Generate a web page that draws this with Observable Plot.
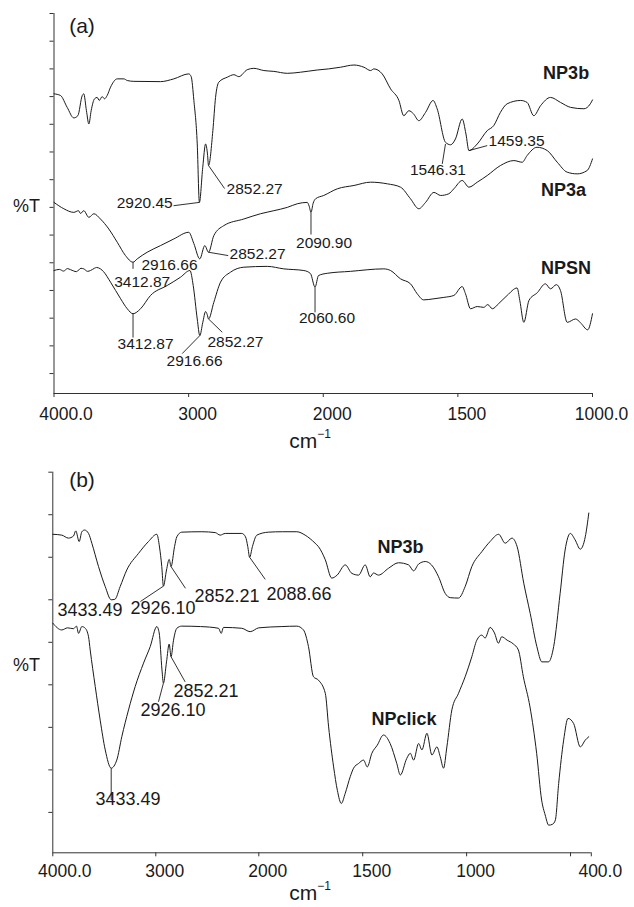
<!DOCTYPE html>
<html>
<head>
<meta charset="utf-8">
<script src="https://cdn.jsdelivr.net/npm/d3@7"></script>
<script src="https://cdn.jsdelivr.net/npm/@observablehq/plot@0.6"></script>
<style>
  html, body { margin: 0; padding: 0; background: #fff; }
  #wrap { width: 634px; }
  #wrap svg { display: block; }
</style>
</head>
<body>
<div id="wrap"></div>
<script>
const FONT = "'Liberation Sans', Arial, Helvetica, sans-serif";
const INK = "#1a1a1a";
const AXIS = "#333";

// ---------- Panel (a): x ticks / labels ----------
const xTicksA = [4000, 3000, 2000, 1500, 1000];
const xTickLabelsA = ["4000.0", "3000", "2000", "1500", "1000.0"];
const yTicksA = [0, 10, 20, 30, 40, 50, 60, 70, 80, 90, 100, 110, 120, 130];

// ---------- Panel (b): x ticks / labels ----------
const xTicksB = [4000, 3000, 2000, 1500, 1000, 500, 400];
const xTickLabelsB = ["4000.0", "3000", "2000", "1500", "1000", "", "400.0"];
const yTicksB = [0, 10, 20, 30, 40, 50, 60, 70, 80];

// ---------- Spectra (wavenumber cm-1, %T arbitrary offset units) ----------
const np3bA = [
  [4000,101.0],[3952,100.4],[3902,96.1],[3853,92.3],[3823,93.1],[3790,100.4],[3779,101.0],[3759,94.9],
  [3741,90.1],[3724,94.9],[3699,99.2],[3679,99.7],[3664,98.6],[3642,100.0],[3625,99.2],[3605,100.4],
  [3580,103.4],[3530,106.4],[3481,106.4],[3456,105.8],[3407,105.5],[3209,105.4],[3110,106.4],[2999,108.2],
  [2981,107.2],[2961,98.6],[2936,82.9],[2920,61.8],[2895,74.5],[2874,82.9],[2860,79.3],[2852,75.1],
  [2820,87.7],[2800,99.7],[2776,105.2],[2713,107.0],[2664,107.9],[2627,107.2],[2565,109.7],[2516,110.2],
  [2441,109.4],[2367,109.1],[2267,108.4],[2169,108.8],[2045,109.6],[1980,110.0],[1936,110.6],[1886,111.4],
  [1849,110.6],[1824,109.4],[1812,110.0],[1781,108.2],[1750,102.8],[1719,98.6],[1701,93.1],[1682,94.9],
  [1665,93.8],[1645,91.3],[1620,94.3],[1592,98.6],[1577,95.6],[1546,83.5],[1527,82.6],[1509,84.7],
  [1484,91.9],[1470,86.5],[1459,80.5],[1428,82.9],[1391,87.7],[1367,89.5],[1342,94.3],[1317,97.4],
  [1267,98.6],[1243,97.9],[1218,93.1],[1193,96.7],[1156,99.7],[1119,97.9],[1081,96.1],[1032,95.6],
  [1008,97.4],[1000,98.8]
];
const np3aA = [
  [4000,61.8],[3927,59.5],[3853,58.2],[3818,58.8],[3803,57.8],[3779,58.8],[3741,56.4],[3704,57.7],
  [3655,55.8],[3593,52.2],[3530,47.4],[3469,42.6],[3413,40.2],[3382,41.4],[3308,43.8],[3209,46.2],
  [3110,48.6],[2999,51.0],[2961,46.9],[2917,41.4],[2880,46.2],[2852,43.8],[2813,49.8],[2739,53.4],
  [2590,55.8],[2466,57.7],[2367,58.8],[2267,60.0],[2193,61.3],[2119,61.8],[2105,60.5],[2091,58.2],
  [2075,61.5],[2057,63.1],[1998,64.3],[1948,66.7],[1886,67.9],[1824,69.1],[1762,68.5],[1713,67.3],
  [1676,63.1],[1645,59.5],[1620,61.8],[1589,65.4],[1564,64.3],[1534,64.9],[1515,66.7],[1484,69.7],
  [1459,67.3],[1428,69.1],[1391,71.5],[1342,75.1],[1292,76.9],[1261,76.3],[1243,78.7],[1206,81.7],
  [1168,80.5],[1131,76.3],[1094,72.7],[1057,72.1],[1020,73.3],[1000,77.5]
];
const npsnA = [
  [4000,37.2],[3960,37.6],[3929,37.0],[3900,37.9],[3877,37.5],[3833,36.8],[3800,38.0],[3779,37.8],
  [3750,36.9],[3729,37.2],[3700,38.0],[3684,38.3],[3655,37.8],[3632,36.8],[3580,33.0],[3505,27.0],
  [3456,23.4],[3413,21.6],[3357,23.4],[3283,28.2],[3159,31.8],[3060,34.8],[2990,37.2],[2966,31.8],
  [2936,19.7],[2917,13.7],[2895,18.4],[2874,22.4],[2862,21.3],[2852,19.7],[2813,25.7],[2763,33.0],
  [2689,36.6],[2590,38.4],[2416,38.7],[2293,37.8],[2144,37.2],[2095,36.1],[2061,31.2],[2035,35.4],
  [1985,36.2],[1899,36.9],[1775,37.8],[1750,37.2],[1713,34.2],[1676,32.4],[1651,28.8],[1627,26.6],
  [1589,27.0],[1552,27.5],[1515,28.2],[1484,31.4],[1472,28.9],[1453,23.4],[1428,24.2],[1404,23.9],
  [1389,24.9],[1372,23.4],[1348,25.3],[1317,28.2],[1280,30.9],[1270,26.4],[1255,18.5],[1236,26.4],
  [1205,29.2],[1175,32.4],[1156,30.6],[1134,32.1],[1119,30.0],[1094,18.5],[1063,19.7],[1045,18.4],
  [1018,15.8],[1000,21.6]
];
const np3bB = [
  [4000,65.4],[3913,65.2],[3848,64.5],[3799,65.0],[3777,66.2],[3744,63.7],[3718,66.0],[3692,66.4],
  [3653,65.6],[3621,63.3],[3556,57.8],[3491,53.1],[3433,50.0],[3398,50.1],[3346,53.1],[3282,57.0],
  [3168,60.9],[3071,63.7],[2990,65.4],[2964,62.4],[2942,57.8],[2926,53.2],[2896,57.0],[2870,59.5],
  [2852,57.8],[2818,62.5],[2796,64.8],[2748,65.9],[2553,66.0],[2423,65.8],[2375,65.2],[2326,65.6],
  [2165,65.6],[2129,64.8],[2107,62.5],[2089,60.0],[2062,62.5],[2019,65.2],[1953,65.9],[1887,66.0],
  [1817,66.0],[1777,65.2],[1729,63.3],[1713,62.5],[1680,59.4],[1649,55.1],[1623,55.8],[1584,58.2],
  [1552,56.2],[1520,55.8],[1488,58.2],[1464,55.4],[1448,56.3],[1424,55.8],[1376,57.4],[1328,58.7],
  [1279,58.2],[1255,56.8],[1231,58.4],[1199,59.0],[1169,58.2],[1135,55.4],[1103,51.5],[1079,50.5],
  [1039,50.4],[1007,53.1],[975,57.8],[927,61.3],[887,63.7],[846,65.4],[814,63.3],[782,64.5],
  [757,62.5],[725,53.9],[694,46.8],[662,39.0],[638,35.4],[606,35.4],[581,39.0],[550,51.5],
  [526,61.7],[501,65.6],[478,64.1],[453,61.9],[429,64.8],[412,70.4]
];
const npclickB = [
  [4000,44.5],[3913,42.9],[3857,43.4],[3799,43.2],[3770,43.8],[3750,42.1],[3718,43.7],[3685,43.3],
  [3653,41.3],[3637,38.2],[3588,29.6],[3540,21.7],[3491,14.7],[3433,10.4],[3379,12.3],[3330,17.8],
  [3265,24.1],[3200,29.6],[3119,35.1],[3054,39.0],[2990,43.7],[2967,42.2],[2940,33.5],[2926,30.4],
  [2896,35.4],[2870,39.6],[2852,36.6],[2828,40.5],[2796,43.3],[2748,43.8],[2566,43.7],[2391,43.3],
  [2365,42.1],[2343,43.5],[2165,43.3],[2084,42.5],[2000,43.4],[1889,43.7],[1817,43.8],[1785,42.9],
  [1761,39.0],[1737,31.9],[1713,31.1],[1680,28.0],[1664,20.1],[1640,10.7],[1622,5.2],[1603,2.1],
  [1584,4.5],[1560,8.4],[1544,10.4],[1520,11.5],[1496,12.3],[1478,10.7],[1456,13.9],[1430,15.8],
  [1400,18.2],[1368,16.2],[1336,11.5],[1319,8.8],[1288,12.7],[1271,13.9],[1255,12.3],[1231,16.2],
  [1215,14.7],[1191,18.6],[1167,13.5],[1143,15.4],[1127,13.1],[1111,10.4],[1095,15.4],[1071,24.1],
  [1039,28.0],[1007,31.9],[975,36.6],[951,40.5],[927,41.7],[911,41.0],[887,43.5],[866,42.2],
  [847,39.8],[831,41.3],[805,40.5],[775,39.6],[751,38.2],[727,31.9],[695,24.8],[663,13.9],
  [639,2.9],[622,-0.6],[605,-3.0],[587,-2.8],[573,-1.8],[557,6.8],[533,17.0],[512,22.1],
  [485,20.9],[453,15.4],[429,17.0],[412,17.8]
];

// ---------- Series names ----------
const namesA = [
  {name: "NP3b", x: 1098, y: 108.5},
  {name: "NP3a", x: 1108, y: 66.1},
  {name: "NPSN", x: 1098, y: 38.1}
];
const namesB = [
  {name: "NP3b", x: 1318, y: 62.3},
  {name: "NPclick", x: 1301, y: 21.8}
];

// ---------- Peak annotations: peak point, leader end, label point ----------
const peaksA = [
  {label: "2920.45", px: 2920, pv: 61.8, lx: 3112, lv: 60.6, tx: 3118, tv: 61.6, anchor: "end"},
  {label: "2852.27", px: 2852, pv: 75.1, lx: 2733, lv: 66.8, tx: 2718, tv: 66.6, anchor: "start"},
  {label: "1546.31", px: 1546, pv: 82.9, lx: 1558, lv: 75.7, tx: 1574, tv: 73.5, anchor: "middle"},
  {label: "1459.35", px: 1459, pv: 80.5, lx: 1391, lv: 82.3, tx: 1386, tv: 83.8, anchor: "start"},
  {label: "2090.90", px: 2091, pv: 58.2, lx: 2091, lv: 50.2, tx: 1997, tv: 47.3, anchor: "middle"},
  {label: "2852.27", px: 2852, pv: 43.8, lx: 2706, lv: 42.6, tx: 2696, tv: 43.1, anchor: "start"},
  {label: "2916.66", px: null, pv: null, lx: null, lv: null, tx: 2934, tv: 39.3, anchor: "end"},
  {label: "3412.87", px: 3413, pv: 40.2, lx: 3413, lv: 37.8, tx: 3345, tv: 33.2, anchor: "middle"},
  {label: "3412.87", px: 3413, pv: 21.6, lx: 3413, lv: 13.0, tx: 3320, tv: 10.6, anchor: "middle"},
  {label: "2916.66", px: 2917, pv: 13.7, lx: 3048, lv: 7.2, tx: 2956, tv: 4.7, anchor: "middle"},
  {label: "2852.27", px: 2852, pv: 19.7, lx: 2750, lv: 14.9, tx: 2652, tv: 11.4, anchor: "middle"},
  {label: "2060.60", px: 2061, pv: 31.2, lx: 2061, lv: 22.1, tx: 1986, tv: 20.0, anchor: "middle"}
];
const peaksB = [
  {label: "3433.49", px: null, pv: null, lx: null, lv: null, tx: 3639, tv: 47.6, anchor: "middle"},
  {label: "2926.10", px: 2926, pv: 53.2, lx: 3149, lv: 49.6, tx: 2930, tv: 48.0, anchor: "middle"},
  {label: "2852.21", px: 2852, pv: 57.8, lx: 2712, lv: 52.7, tx: 2624, tv: 50.9, anchor: "start"},
  {label: "2088.66", px: 2089, pv: 60.0, lx: 1969, lv: 54.8, tx: 1963, tv: 51.2, anchor: "start"},
  {label: "2852.21", px: 2852, pv: 36.6, lx: 2715, lv: 30.7, tx: 2828, tv: 28.4, anchor: "start"},
  {label: "2926.10", px: 2926, pv: 30.4, lx: 2974, lv: 26.0, tx: 2833, tv: 24.0, anchor: "middle"},
  {label: "3433.49", px: 3433, pv: 10.4, lx: 3433, lv: 2.9, tx: 3270, tv: 3.2, anchor: "middle"}
];

function panel(o) {
  const W = 634;
  const r0 = o.ml, r2 = W - o.mr, r1 = r0 + (r2 - r0) * o.breakFrac;
  const tickRows = o.xTicks.map((v, i) => ({v, label: o.xLabels[i]}));
  const textMarks = ["start", "middle", "end"].map(a =>
    Plot.text(o.peaks.filter(d => d.anchor === a), {
      x: "tx", y: "tv", text: "label", textAnchor: a, lineAnchor: "middle",
      fontSize: o.annotSize, fill: INK
    })
  );
  const chart = Plot.plot({
    width: W, height: o.height,
    marginTop: o.mt, marginBottom: o.mb, marginLeft: o.ml, marginRight: o.mr,
    style: {fontFamily: FONT, background: "#fff", color: INK, overflow: "visible"},
    x: {type: "linear", domain: o.xDomain, range: [r0, r1, r2], axis: null},
    y: {domain: o.yDomain, axis: null},
    marks: [
      Plot.ruleX([o.xDomain[0]], {stroke: AXIS, strokeWidth: 1}),
      Plot.ruleY([o.yDomain[0]], {stroke: AXIS, strokeWidth: 1}),
      Plot.axisY({ticks: o.yTicks, tickSize: 4, tickFormat: () => "", stroke: AXIS, label: null}),
      Plot.axisX({ticks: o.xTicks, tickSize: 4, tickFormat: () => "", stroke: AXIS, label: null}),
      Plot.text(tickRows.filter(d => d.v === 4000), {
        x: "v", text: "label", frameAnchor: "bottom", lineAnchor: "top",
        dy: o.tickDy, dx: 12, fontSize: 17.5, fill: INK
      }),
      Plot.text(tickRows.filter(d => d.v !== 4000 && d.label), {
        x: "v", text: "label", frameAnchor: "bottom", lineAnchor: "top",
        dy: o.tickDy, dx: 9, fontSize: 17.5, fill: INK
      }),
      ...o.series.map(s => Plot.line(s, {
        x: d => d[0], y: d => d[1], curve: "monotone-x", stroke: INK, strokeWidth: 1
      })),
      Plot.link(o.peaks.filter(d => d.px != null), {
        x1: "px", y1: "pv", x2: "lx", y2: "lv", stroke: INK, strokeWidth: 0.9
      }),
      ...textMarks,
      Plot.text(o.names, {
        x: "x", y: "y", text: "name", fontWeight: "bold", fontSize: 18,
        textAnchor: "middle", lineAnchor: "middle", fill: INK
      }),
      Plot.text([o.tag], {
        frameAnchor: "top-left", dx: o.tagDx, dy: o.tagDy, textAnchor: "middle",
        lineAnchor: "middle", fontSize: 21, fill: INK
      }),
      Plot.text(["%T"], {
        frameAnchor: "top-left", dx: o.pctDx, dy: o.pctDy, textAnchor: "middle",
        lineAnchor: "middle", fontSize: 18, fill: INK
      })
    ]
  });
  const svg = d3.select(chart.tagName.toLowerCase() === "svg" ? chart : chart.querySelector("svg"));
  const t = svg.append("text")
    .attr("x", o.unitX).attr("y", o.unitY)
    .attr("font-family", FONT).attr("font-size", 21).attr("fill", INK);
  t.append("tspan").text("cm");
  t.append("tspan").attr("dy", -10).attr("font-size", 12).text("\u22121");
  return chart;
}

const wrap = document.getElementById("wrap");
wrap.appendChild(panel({
  height: 453, mt: 13, mb: 60, ml: 53.5, mr: 42, breakFrac: 0.5,
  xDomain: [4000, 2000, 1000], yDomain: [-7.2, 130],
  xTicks: xTicksA, xLabels: xTickLabelsA, yTicks: yTicksA, tickDy: 13.7,
  series: [np3bA, np3aA, npsnA], names: namesA, peaks: peaksA, annotSize: 15.5,
  tag: "(a)", tagDx: 28, tagDy: 12.8, pctDx: -27.5, pctDy: 193,
  unitX: 310, unitY: 448
}));
wrap.appendChild(panel({
  height: 454, mt: 18.7, mb: 54.7, ml: 52.3, mr: 43.2, breakFrac: 206 / 538.5,
  xDomain: [4000, 2000, 400], yDomain: [-9.5, 80],
  xTicks: xTicksB, xLabels: xTickLabelsB, yTicks: yTicksB, tickDy: 12,
  series: [np3bB, npclickB], names: namesB, peaks: peaksB, annotSize: 18,
  tag: "(b)", tagDx: 29.2, tagDy: 8.5, pctDx: -26.3, pctDy: 193.3,
  unitX: 310, unitY: 447
}));
</script>
</body>
</html>
